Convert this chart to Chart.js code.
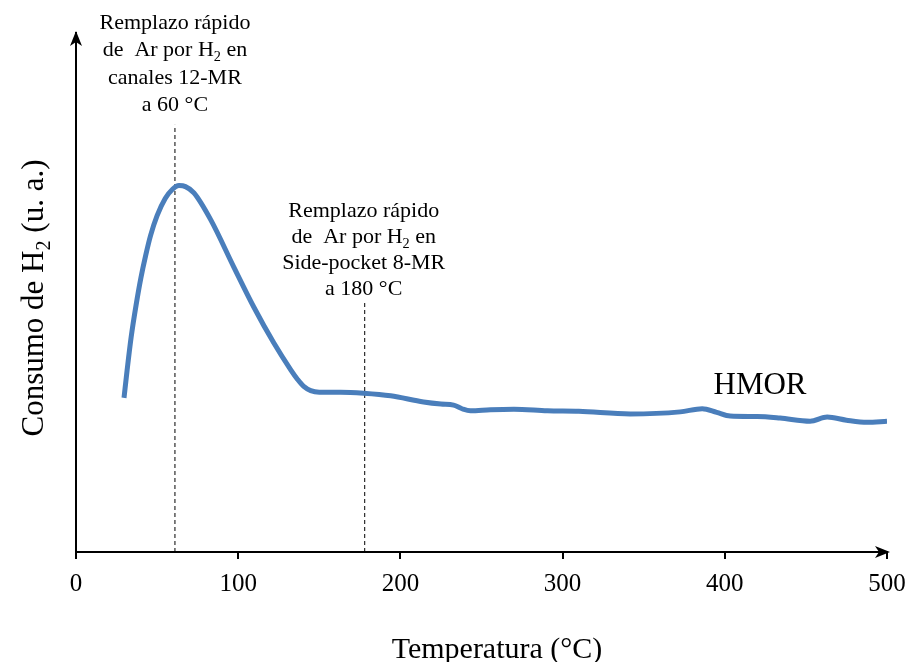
<!DOCTYPE html>
<html lang="es">
<head>
<meta charset="UTF-8" />
<title>Consumo de H2 - HMOR</title>
<style>
  html, body { margin: 0; padding: 0; background: #fff; }
  #wrap { width: 909px; height: 662px; }
</style>
<script src="https://cdn.jsdelivr.net/npm/chart.js"></script>
</head>
<body>
<div id="wrap"><canvas id="tpd" width="909" height="662"></canvas></div>
<script>
  // temperatura (°C) and consumo (u. a.)
  const temps = [29.6, 31.5, 34.0, 37.0, 40.0, 43.0, 46.0, 50.0, 55.0, 59.5, 63.5, 67.5, 72.7, 83.1, 97.3, 109.6, 121.9,
    132.4, 136.5, 140.4, 144.7, 150.0, 163.2, 177.3, 194.0, 214.3, 225.0, 232.8, 238.0, 243.2, 255.5, 270.0, 290.6,
    310.0, 341.7, 372.5, 386.1, 395.0, 403.3, 420.0, 434.1, 452.6, 463.1, 475.0, 487.7, 500.0];
  const consumo = [29.7, 35.0, 41.4, 47.5, 52.8, 57.2, 61.0, 64.8, 68.1, 69.9, 70.6, 70.4, 69.2, 64.0, 54.9, 47.2, 40.3,
    35.1, 33.3, 31.9, 31.1, 30.8, 30.8, 30.6, 30.1, 28.9, 28.5, 28.3, 27.6, 27.2, 27.4, 27.5, 27.2,
    27.1, 26.6, 27.0, 27.6, 26.9, 26.2, 26.1, 25.8, 25.2, 26.0, 25.4, 25.0, 25.2];

  const xTicks = [0, 100, 200, 300, 400, 500];
  // vertical dashed markers: [temperatura, altura]
  const markerX = [61, 178];
  const markerTop = [82.3, 48.2];

  const serif = "'Liberation Serif', 'DejaVu Serif', serif";
  Chart.defaults.font.family = serif;
  Chart.defaults.color = '#000';

  const curve = temps.map((t, i) => ({ x: t, y: consumo[i] }));
  const markerSets = markerX.map((mx, i) => ({
    data: [{ x: mx, y: 0 }, { x: mx, y: markerTop[i] }],
    borderColor: '#000',
    borderWidth: 1,
    borderDash: [4, 3],
    pointRadius: 0,
    tension: 0
  }));

  // draws a line of text with an optional subscript part, centred at cx
  function richLine(ctx, parts, cx, cy, size) {
    let total = 0;
    parts.forEach(p => {
      ctx.font = (p.sub ? size * 0.65 : size) + 'px ' + serif;
      p.w = ctx.measureText(p.t).width;
      total += p.w;
    });
    let x = cx - total / 2;
    ctx.textAlign = 'left';
    ctx.textBaseline = 'alphabetic';
    parts.forEach(p => {
      ctx.font = (p.sub ? size * 0.65 : size) + 'px ' + serif;
      ctx.fillText(p.t, x, cy + size * 0.33 + (p.sub ? size * 0.22 : 0));
      x += p.w;
    });
  }

  const extras = {
    id: 'extras',
    afterDraw(chart) {
      const ctx = chart.ctx;
      const a = chart.chartArea;
      const xs = chart.scales.x;
      ctx.save();
      ctx.fillStyle = '#000';
      ctx.strokeStyle = '#000';

      // small stub of the y axis below the x axis
      ctx.lineWidth = 2;
      ctx.beginPath();
      ctx.moveTo(a.left, a.bottom);
      ctx.lineTo(a.left, a.bottom + 7);
      ctx.stroke();

      // arrow heads
      ctx.beginPath();
      ctx.moveTo(a.left, a.top - 2);
      ctx.lineTo(a.left - 6, a.top + 13);
      ctx.lineTo(a.left, a.top + 9);
      ctx.lineTo(a.left + 6, a.top + 13);
      ctx.closePath();
      ctx.fill();
      ctx.beginPath();
      ctx.moveTo(a.right + 3, a.bottom);
      ctx.lineTo(a.right - 12, a.bottom - 6);
      ctx.lineTo(a.right - 8, a.bottom);
      ctx.lineTo(a.right - 12, a.bottom + 6);
      ctx.closePath();
      ctx.fill();

      // annotations
      const c1 = xs.getPixelForValue(markerX[0]);
      richLine(ctx, [{ t: 'Remplazo rápido' }], c1, 22, 22);
      richLine(ctx, [{ t: 'de  Ar por H' }, { t: '2', sub: true }, { t: ' en' }], c1, 49, 22);
      richLine(ctx, [{ t: 'canales 12-MR' }], c1, 77, 22);
      richLine(ctx, [{ t: 'a 60 °C' }], c1, 104, 22);

      const c2 = xs.getPixelForValue(markerX[1]) - 1;
      richLine(ctx, [{ t: 'Remplazo rápido' }], c2, 210, 22);
      richLine(ctx, [{ t: 'de  Ar por H' }, { t: '2', sub: true }, { t: ' en' }], c2, 236, 22);
      richLine(ctx, [{ t: 'Side-pocket 8-MR' }], c2, 262, 22);
      richLine(ctx, [{ t: 'a 180 °C' }], c2, 288, 22);

      richLine(ctx, [{ t: 'HMOR' }], 760, 384, 31);

      // axis titles
      richLine(ctx, [{ t: 'Temperatura (°C)' }], 497, 648, 30);
      ctx.translate(33, 298);
      ctx.rotate(-Math.PI / 2);
      richLine(ctx, [{ t: 'Consumo de H' }, { t: '2', sub: true }, { t: ' (u. a.)' }], 0, 0, 31);
      ctx.restore();
    }
  };

  new Chart(document.getElementById('tpd'), {
    type: 'line',
    data: {
      datasets: [{
        data: curve,
        borderColor: '#4a7ebb',
        borderWidth: 5,
        pointRadius: 0,
        tension: 0.4,
        cubicInterpolationMode: 'monotone'
      }].concat(markerSets)
    },
    options: {
      responsive: false,
      animation: false,
      layout: { padding: { top: 33, right: 22, left: 0, bottom: 0 } },
      plugins: { legend: { display: false }, tooltip: { enabled: false } },
      scales: {
        x: {
          type: 'linear',
          min: 0,
          max: 500,
          afterFit(s) { s.height = 110; s.paddingLeft = 0; s.paddingRight = 0; },
          afterBuildTicks(s) { s.ticks = xTicks.map(v => ({ value: v })); },
          grid: { drawOnChartArea: false, drawTicks: true, tickLength: 7, color: '#000', lineWidth: 2 },
          border: { color: '#000', width: 2 },
          ticks: { font: { size: 25 }, padding: 10, maxRotation: 0 }
        },
        y: {
          min: 0,
          max: 100,
          afterFit(s) { s.width = 76; },
          grid: { display: false },
          border: { color: '#000', width: 2 },
          ticks: { display: false }
        }
      }
    },
    plugins: [extras]
  });
</script>
</body>
</html>
